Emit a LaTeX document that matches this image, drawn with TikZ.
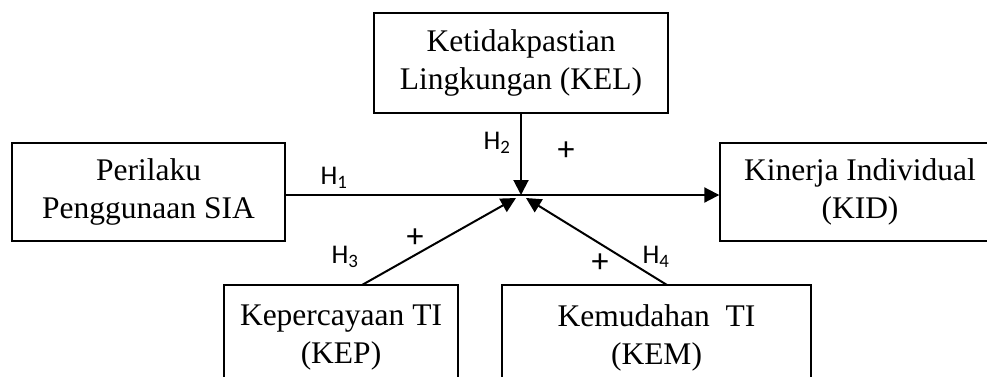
\documentclass[tikz,border=0pt]{standalone}
\usepackage{fontspec}
\setmainfont{Liberation Serif}
\newfontfamily\labelfont{Carlito}
\usetikzlibrary{arrows.meta,calc}
\begin{document}
\begin{tikzpicture}[x=1pt,y=-1pt,
  box/.style={draw,line width=1.4pt,inner sep=0pt,align=center,
    font=\fontsize{31.5}{38}\selectfont},
  lbl/.style={font=\labelfont\fontsize{27}{30}\selectfont,inner sep=0pt},
  sign/.style={font=\labelfont\fontsize{34}{36}\selectfont,inner sep=0pt},
  link/.style={line width=2pt,-{Triangle[length=15pt,width=15pt]}}]
\useasboundingbox (0,0) rectangle (987,376);
\clip (0,0) rectangle (987,376);
% variable boxes
\node[box,minimum width=294pt,minimum height=100pt] (kel) at (521,63)
  {Ketidakpastian\\Lingkungan (KEL)};
\node[box,minimum width=273pt,minimum height=98pt] (sia) at (148.5,192)
  {Perilaku\\Penggunaan SIA};
\node[box,minimum width=280pt,minimum height=98pt] (kid) at (860,192)
  {Kinerja Individual\\(KID)};
\node[box,minimum width=234pt,minimum height=106pt] (kep) at (341,338)
  {Kepercayaan TI\\(KEP)};
\node[box,minimum width=309pt,minimum height=106pt] (kem) at (656.5,338)
  {Kemudahan\ \ TI\\(KEM)};
% meeting point of the moderating paths
\coordinate (hub) at (521,195);
\coordinate (kepTop) at (362,285);
\coordinate (kemTop) at (667,285);
% paths
\draw[link] (sia.east |- hub) -- (kid.west |- hub);
\draw[link] (kel.south) -- (hub);
\draw[link] (kepTop) -- ($(hub)+(-5,3)$);
\draw[link] (kemTop) -- ($(hub)+(5,3)$);
% hypothesis labels
\node[lbl] (h1) at (334,178) {H\textsubscript{1}};
\node[lbl] (h2) at (497,143) {H\textsubscript{2}};
\node[sign] (p2) at (566,151) {+};
\node[lbl] (h3) at (345,257) {H\textsubscript{3}};
\node[sign] (p3) at (415,238) {+};
\node[sign] (p4) at (600,263) {+};
\node[lbl] (h4) at (656,257) {H\textsubscript{4}};
\end{tikzpicture}
\end{document}
